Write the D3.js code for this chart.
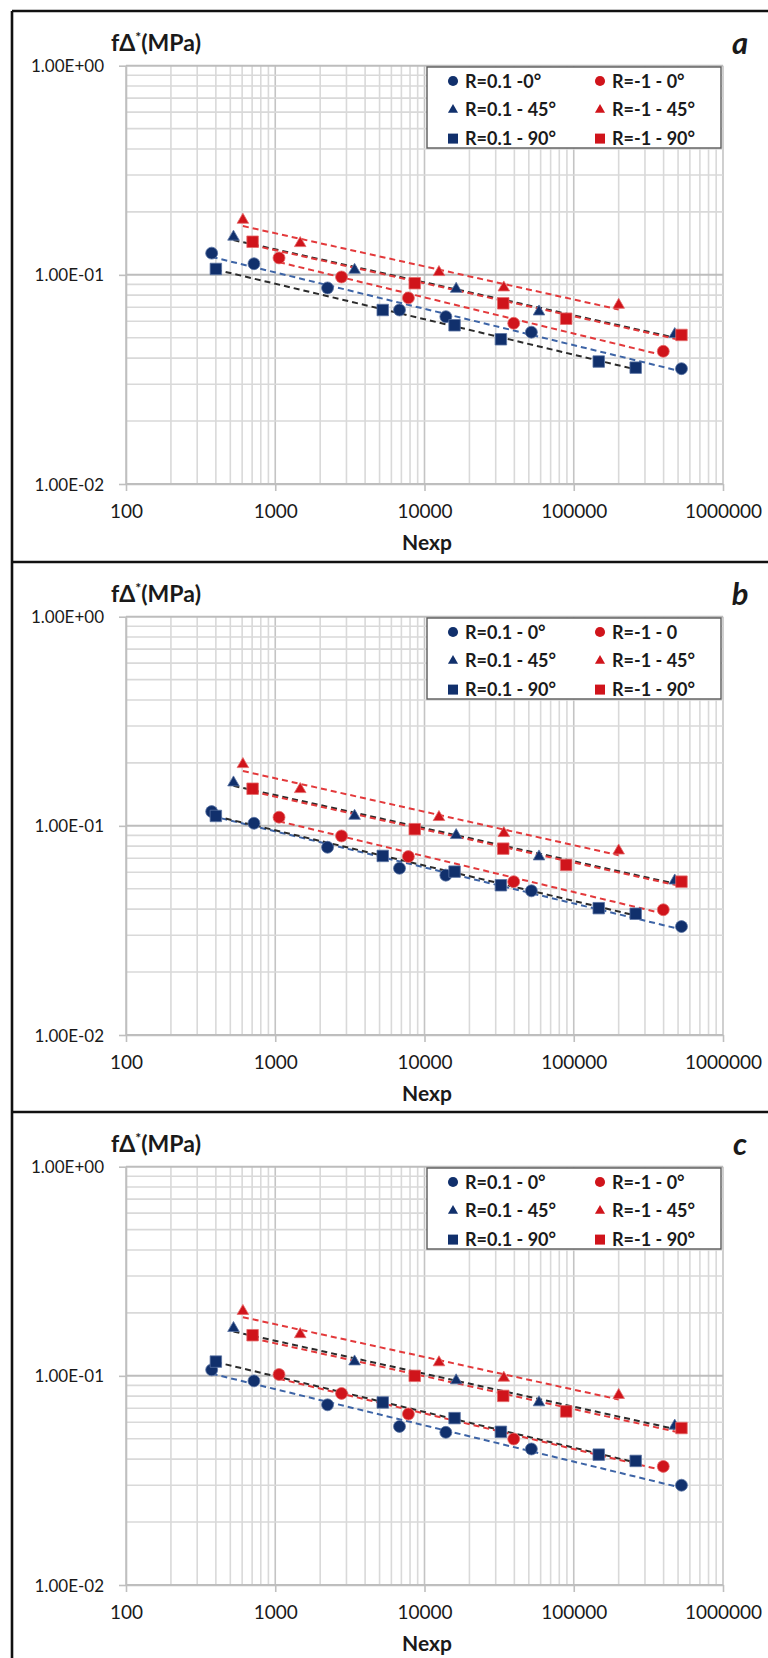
<!DOCTYPE html>
<html><head><meta charset="utf-8">
<script src="https://cdn.jsdelivr.net/npm/d3@7"></script>
<style>
body{margin:0;background:#fff;}
svg{display:block;}
text{font-family:Lato,'Open Sans',sans-serif;fill:#1a1a1a;}
</style></head><body>
<svg id="chart" width="768" height="1658"></svg>
<script>
// ---------- DATA ----------
// Number of cycles (Nexp) for each series (shared by the three panels)
const nR01_0  = [375, 720, 2240, 6800, 13900, 52000, 527000];
const nR01_45 = [525, 3400, 16300, 58500, 475000];
const nR01_90 = [400, 5250, 15900, 32500, 147000, 260000];
const nRm1_0  = [1060, 2780, 7800, 39600, 398000];
const nRm1_45 = [607, 1470, 12500, 34000, 200000];
const nRm1_90 = [705, 8600, 33700, 89000, 527000];

// Panel a values fΔ* (MPa)
const a_R01_0  = [0.127, 0.113, 0.0866, 0.0679, 0.0631, 0.0532, 0.0356];
const a_R01_45 = [0.152, 0.1055, 0.0856, 0.0667, 0.052];
const a_R01_90 = [0.1067, 0.0679, 0.0574, 0.0492, 0.0385, 0.036];
const a_Rm1_0  = [0.1205, 0.0977, 0.0776, 0.0587, 0.0431];
const a_Rm1_45 = [0.183, 0.1416, 0.1029, 0.0869, 0.0718];
const a_Rm1_90 = [0.144, 0.0912, 0.0731, 0.0617, 0.0516];

// Panel b values
const b_R01_0  = [0.117, 0.1029, 0.079, 0.0627, 0.0581, 0.0489, 0.033];
const b_R01_45 = [0.161, 0.1115, 0.0902, 0.0713, 0.0547];
const b_R01_90 = [0.1115, 0.0718, 0.0604, 0.052, 0.0404, 0.038];
const b_Rm1_0  = [0.11, 0.0895, 0.0713, 0.0541, 0.0397];
const b_Rm1_45 = [0.197, 0.1496, 0.11, 0.0922, 0.0761];
const b_Rm1_90 = [0.1505, 0.0964, 0.0778, 0.065, 0.0541];

// Panel c values
const c_R01_0  = [0.1068, 0.0946, 0.0727, 0.0573, 0.0537, 0.0447, 0.030];
const c_R01_45 = [0.169, 0.117, 0.095, 0.0746, 0.0577];
const c_R01_90 = [0.117, 0.0746, 0.0628, 0.054, 0.042, 0.0392];
const c_Rm1_0  = [0.1015, 0.0824, 0.0657, 0.0499, 0.0369];
const c_Rm1_45 = [0.204, 0.158, 0.1159, 0.0978, 0.0809];
const c_Rm1_90 = [0.1564, 0.1, 0.0802, 0.0676, 0.0563];

const legendA = ["R=0.1 -0°", "R=-1 - 0°", "R=0.1 - 45°", "R=-1 - 45°", "R=0.1 - 90°", "R=-1 - 90°"];
const legendB = ["R=0.1 - 0°", "R=-1 - 0", "R=0.1 - 45°", "R=-1 - 45°", "R=0.1 - 90°", "R=-1 - 90°"];
const legendC = ["R=0.1 - 0°", "R=-1 - 0°", "R=0.1 - 45°", "R=-1 - 45°", "R=0.1 - 90°", "R=-1 - 90°"];

const panelLetters = ["a", "b", "c"];
const xTickValues = [100, 1000, 10000, 100000, 1000000];
const xTickLabels = ["100", "1000", "10000", "100000", "1000000"];
const yTickValues = [0.01, 0.1, 1];
const yTickLabels = ["1.00E-02", "1.00E-01", "1.00E+00"];
const yTitle = "fΔ";
const yTitleSup = "*";
const yTitleUnit = "(MPa)";
const xTitle = "Nexp";

// ---------- STYLE ----------
const navy = "#11306c", red = "#d0141b";
const trendBlue = "#3d64a6", trendBlack = "#2b2b2b", trendRed = "#e3393b";

const panels = [
  {letter: panelLetters[0], legend: legendA, vals: [a_R01_0, a_Rm1_0, a_R01_45, a_Rm1_45, a_R01_90, a_Rm1_90]},
  {letter: panelLetters[1], legend: legendB, vals: [b_R01_0, b_Rm1_0, b_R01_45, b_Rm1_45, b_R01_90, b_Rm1_90]},
  {letter: panelLetters[2], legend: legendC, vals: [c_R01_0, c_Rm1_0, c_R01_45, c_Rm1_45, c_R01_90, c_Rm1_90]}
];
// legend order: blue circle, red circle, blue tri, red tri, blue sq, red sq
const defs = [
  {n: nR01_0,  color: navy, shape: "circle",   trend: trendBlue},
  {n: nRm1_0,  color: red,  shape: "circle",   trend: trendRed},
  {n: nR01_45, color: navy, shape: "triangle", trend: trendBlack},
  {n: nRm1_45, color: red,  shape: "triangle", trend: trendRed},
  {n: nR01_90, color: navy, shape: "square",   trend: trendBlack},
  {n: nRm1_90, color: red,  shape: "square",   trend: trendRed}
];
const drawOrder = [0, 2, 4, 1, 3, 5];
const trendOrder = [0, 4, 2, 1, 5, 3];

const panelTops = [11, 562, 1112];
const P = {left: 126, right: 723, top: 54.7, bottom: 473};

const svg = d3.select("#chart");
const x = d3.scaleLog().domain([100, 1e6]).range([P.left, P.right]);
const y = d3.scaleLog().domain([0.01, 1]).range([P.bottom, P.top]);

function symPath(shape, big) {
  if (shape === "circle") return d3.symbol(d3.symbolCircle, big ? 112 : 80)();
  if (shape === "triangle") return d3.symbol(d3.symbolTriangle, big ? 58 : 44)();
  return d3.symbol(d3.symbolSquare, big ? 132 : 100)();
}

function fit(ns, vs) {
  const lx = ns.map(Math.log), ly = vs.map(Math.log);
  const mx = d3.mean(lx), my = d3.mean(ly);
  let sxy = 0, sxx = 0;
  lx.forEach((v, i) => { sxy += (v - mx) * (ly[i] - my); sxx += (v - mx) * (v - mx); });
  const b = sxy / sxx, a = my - b * mx;
  const n0 = d3.min(ns), n1 = d3.max(ns);
  return [[n0, Math.exp(a + b * Math.log(n0))], [n1, Math.exp(a + b * Math.log(n1))]];
}

panels.forEach((p, pi) => {
  const g = svg.append("g").attr("transform", `translate(0,${panelTops[pi]})`);

  // gridlines
  const xt = x.ticks(), yt = y.ticks();
  const isMajor = v => Math.abs(Math.log10(v) - Math.round(Math.log10(v))) < 1e-9;
  g.append("g").selectAll("line").data(xt).join("line")
    .attr("x1", d => x(d)).attr("x2", d => x(d)).attr("y1", P.top).attr("y2", P.bottom)
    .attr("stroke", d => isMajor(d) ? "#c4c4c4" : "#d9d9d9").attr("stroke-width", 1.6);
  g.append("g").selectAll("line").data(yt).join("line")
    .attr("y1", d => y(d)).attr("y2", d => y(d)).attr("x1", P.left).attr("x2", P.right)
    .attr("stroke", d => isMajor(d) ? "#bdbdbd" : "#d9d9d9").attr("stroke-width", d => isMajor(d) ? 2 : 1.6);

  // axes
  const ya = d3.axisLeft(y).tickValues(yTickValues).tickSize(7).tickSizeOuter(0).tickPadding(15)
    .tickFormat((d, i) => yTickLabels[i]);
  const yg = g.append("g").attr("transform", `translate(${P.left},0)`).call(ya);
  const xa = d3.axisBottom(x).tickValues(xTickValues).tickSize(7).tickSizeOuter(0).tickPadding(14)
    .tickFormat((d, i) => xTickLabels[i]);
  const xg = g.append("g").attr("transform", `translate(0,${P.bottom})`).call(xa);
  [yg, xg].forEach(ag => {
    ag.select(".domain").attr("stroke", "#bfbfbf").attr("stroke-width", 1.6);
    ag.selectAll(".tick line").attr("stroke", "#bfbfbf").attr("stroke-width", 1.6);
    ag.selectAll(".tick text").attr("font-family", "Lato, sans-serif").attr("fill", "#1a1a1a");
  });
  yg.selectAll(".tick text").attr("font-size", 17).attr("dy", "0.36em");
  xg.selectAll(".tick text").attr("font-size", 19);

  // trend lines
  trendOrder.forEach(si => {
    const d = defs[si];
    const pts = fit(d.n, p.vals[si]);
    g.append("path").attr("d", d3.line().x(q => x(q[0])).y(q => y(q[1]))(pts))
      .attr("fill", "none").attr("stroke", d.trend).attr("stroke-width", 2)
      .attr("stroke-dasharray", "6,4");
  });

  // markers
  drawOrder.forEach(si => {
    const d = defs[si];
    g.append("g").selectAll("path").data(d.n.map((nv, i) => [nv, p.vals[si][i]])).join("path")
      .attr("transform", q => `translate(${x(q[0])},${y(q[1])})`)
      .attr("d", symPath(d.shape, true))
      .attr("fill", d.color).attr("stroke", d.color === navy ? "#5b73a3" : "#e46a6a").attr("stroke-width", 0.8);
  });

  // legend
  const lg = g.append("g").attr("transform", "translate(427,56)");
  lg.append("rect").attr("width", 294).attr("height", 81).attr("fill", "#fff")
    .attr("stroke", "#5a5a5a").attr("stroke-width", 1.4);
  defs.forEach((d, i) => {
    const col = i % 2, row = Math.floor(i / 2);
    const cx = col === 0 ? 26 : 173, cy = 14 + row * 28.8;
    lg.append("path").attr("transform", `translate(${cx},${cy})`).attr("d", symPath(d.shape, false))
      .attr("fill", d.color);
    lg.append("text").attr("x", cx + 12).attr("y", cy + 6.5).attr("font-size", 18)
      .attr("font-weight", "bold").text(p.legend[i]);
  });

  // axis titles
  const yt2 = g.append("text").attr("x", 111).attr("y", 40).attr("font-size", 23).attr("font-weight", "bold");
  yt2.append("tspan").text(yTitle);
  yt2.append("tspan").attr("font-size", 14).attr("dy", -9).text(yTitleSup);
  yt2.append("tspan").attr("dy", 9).text(yTitleUnit);
  g.append("text").attr("x", 427).attr("y", 539).attr("text-anchor", "middle")
    .attr("font-size", 21).attr("font-weight", "bold").text(xTitle);

  // panel letter
  g.append("text").attr("x", 740).attr("y", 43).attr("text-anchor", "middle")
    .attr("font-size", 31).attr("font-weight", "bold").attr("font-style", "italic").text(p.letter);
});

// frame lines
const frame = svg.append("g").attr("stroke", "#111").attr("stroke-width", 2.6);
frame.append("line").attr("x1", 12).attr("x2", 768).attr("y1", 11).attr("y2", 11);
frame.append("line").attr("x1", 12).attr("x2", 12).attr("y1", 11).attr("y2", 1658);
panelTops.slice(1).forEach(t => frame.append("line").attr("x1", 12).attr("x2", 768).attr("y1", t).attr("y2", t));
</script>
</body></html>
